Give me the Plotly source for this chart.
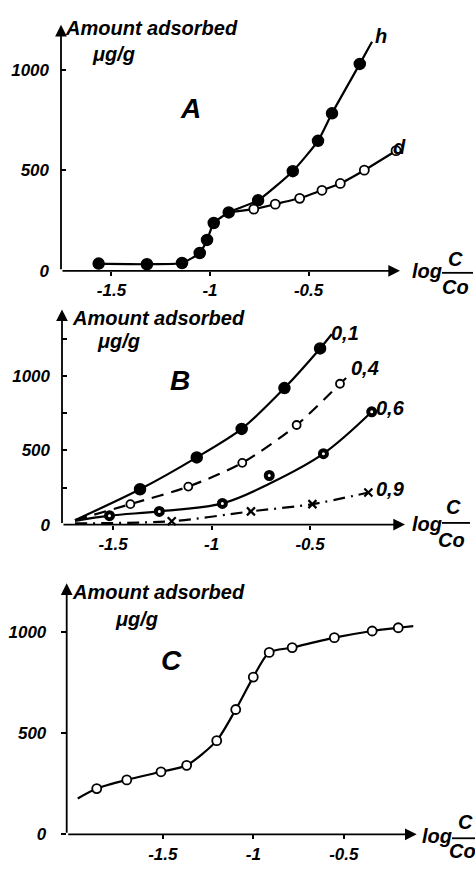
import plotly.graph_objects as go

W, H = 475, 871
FONT = "Liberation Sans"

# ---------------- data ----------------
# Panel A
A_h_x = [-1.565, -1.320, -1.142, -1.052, -1.015, -0.981, -0.905, -0.756, -0.580, -0.452, -0.381, -0.240]
A_h_y = [36, 33, 39, 89, 154, 238, 291, 351, 496, 647, 784, 1030]
A_h_end_x = [-0.178]
A_h_end_y = [1140]
A_d_x = [-0.778, -0.669, -0.545, -0.432, -0.339, -0.217, -0.056]
A_d_y = [307, 332, 361, 401, 435, 501, 598]
A_d_branch = 6  # index of h point where d branches off

# Panel B
B01_x = [-1.363, -1.075, -0.847, -0.630, -0.449]
B01_y = [238, 453, 645, 920, 1187]
B01_curve_x = [-1.693, -1.363, -1.075, -0.847, -0.630, -0.449, -0.390]
B01_curve_y = [30, 238, 453, 645, 920, 1187, 1283]
B04_x = [-1.412, -1.118, -0.844, -0.568, -0.348]
B04_y = [138, 256, 416, 671, 949]
B04_curve_x = [-1.693, -1.412, -1.118, -0.844, -0.568, -0.348, -0.305]
B04_curve_y = [30, 138, 256, 416, 671, 949, 1003]
B06_x = [-1.518, -1.265, -0.945, -0.707, -0.432, -0.187]
B06_y = [60, 89, 143, 331, 478, 760]
B06_curve_x = [-1.693, -1.518, -1.265, -0.945, -0.707, -0.432, -0.187]
B06_curve_y = [25, 60, 89, 143, 275, 478, 760]
B09_x = [-1.202, -0.800, -0.488, -0.204]
B09_y = [23, 89, 138, 216]
B09_curve_x = [-1.693, -1.202, -0.800, -0.488, -0.204]
B09_curve_y = [8, 23, 89, 138, 216]

# Panel C
C_x = [-1.865, -1.699, -1.510, -1.368, -1.202, -1.097, -1.000, -0.912, -0.785, -0.552, -0.343, -0.199]
C_y = [226, 269, 309, 341, 463, 617, 777, 899, 923, 972, 1005, 1021]
C_curve_x = [-1.970] + C_x + [-0.116]
C_curve_y = [177] + C_y + [1029]

x_tickvals = [-1.5, -1, -0.5]
x_ticktext = ["-1.5", "-1", "-0.5"]
A_yticks = [0, 500, 1000]
A_yticktext = ["0", "500", "1000"]
B_yticks = [0, 250, 500, 750, 1000, 1250]
B_yticktext = ["0", "", "500", "", "1000", ""]
C_yticks = [0, 500, 1000]
C_yticktext = ["0", "500", "1000"]

# axis ranges (x-axis origin at left end, arrow at right end)
A_xr, A_yr = [-1.756, -0.036], [0, 1225]
B_xr, B_yr = [-1.759, -0.018], [0, 1450]
C_xr, C_yr = [-2.031, -0.097], [0, 1241]


def px(x):
    return x / W


def py(y):
    return 1 - y / H


fig = go.Figure()

LW = 2.2


def curve(xs, ys, ax, dash="solid", smooth=0.8):
    fig.add_trace(go.Scatter(x=xs, y=ys, mode="lines", xaxis="x" + ax, yaxis="y" + ax,
                             line=dict(color="black", width=LW, dash=dash, shape="spline",
                                       smoothing=smooth),
                             hoverinfo="skip", showlegend=False, cliponaxis=False))


def marks(xs, ys, ax, symbol="circle", fill="black", size=11, lw=1.5):
    fig.add_trace(go.Scatter(x=xs, y=ys, mode="markers", xaxis="x" + ax, yaxis="y" + ax,
                             marker=dict(symbol=symbol, size=size, color=fill,
                                         line=dict(color="black", width=lw)),
                             showlegend=False, cliponaxis=False))


# Panel A
curve(A_h_x + A_h_end_x, A_h_y + A_h_end_y, "", smooth=0.5)
curve(A_h_x[A_d_branch:A_d_branch + 1] + A_d_x, A_h_y[A_d_branch:A_d_branch + 1] + A_d_y, "", smooth=0.4)
marks(A_h_x, A_h_y, "", size=11)
marks(A_d_x, A_d_y, "", fill="white", size=9, lw=1.8)

# Panel B
curve(B01_curve_x, B01_curve_y, "2")
curve(B04_curve_x, B04_curve_y, "2", dash="12px,8px")
curve(B06_curve_x, B06_curve_y, "2", smooth=1)
curve(B09_curve_x, B09_curve_y, "2", dash="12px,6px,2px,6px")
marks(B01_x, B01_y, "2", size=11)
marks(B04_x, B04_y, "2", fill="white", size=8, lw=1.8)
marks(B06_x, B06_y, "2", fill="white", size=7, lw=4)
marks(B09_x, B09_y, "2", symbol="x-thin", size=8, lw=2.2)

# Panel C
curve(C_curve_x, C_curve_y, "3", smooth=0.7)
marks(C_x, C_y, "3", fill="white", size=9, lw=1.8)

tickfont = dict(family=FONT, size=17, color="black", weight="bold", style="italic")


def it(lst):
    return ["<i>%s</i>" % s if s else "" for s in lst]


def xaxis(domain, rng, anchor):
    return dict(domain=domain, range=rng, anchor=anchor, showgrid=False, zeroline=False,
                showline=False, ticks="outside", ticklen=4, tickwidth=1.5, tickcolor="black",
                tickvals=x_tickvals, ticktext=it(x_ticktext), tickfont=tickfont, fixedrange=True)


def yaxis(domain, rng, anchor, tickvals, ticktext, ticks="inside"):
    return dict(domain=domain, range=rng, anchor=anchor, showgrid=False, zeroline=False,
                showline=False, ticks=ticks, ticklen=5, tickwidth=1.5, tickcolor="black",
                tickvals=tickvals, ticktext=it(ticktext), tickfont=tickfont, fixedrange=True,
                ticklabelstandoff=11)


fig.update_layout(
    width=W, height=H, margin=dict(l=0, r=0, t=0, b=0),
    paper_bgcolor="white", plot_bgcolor="white",
    xaxis=xaxis([61 / W, 400 / W], A_xr, "y"),
    yaxis=yaxis([1 - 274 / H, 1 - 25 / H], A_yr, "x", A_yticks, A_yticktext),
    xaxis2=xaxis([62 / W, 405 / W], B_xr, "y2"),
    yaxis2=yaxis([1 - 530.7 / H, 1 - 313 / H], B_yr, "x2", B_yticks, B_yticktext),
    xaxis3=xaxis([66.7 / W, 416.7 / W], C_xr, "y3"),
    yaxis3=yaxis([1 - 844 / H, 1 - 590 / H], C_yr, "x3", C_yticks, C_yticktext, ticks="outside"),
)

ann = []
shapes = []


def arrow_axes(xr, yr, sfx):
    common = dict(xref="x" + sfx, yref="y" + sfx, axref="x" + sfx, ayref="y" + sfx, text="",
                  showarrow=True, arrowhead=2, arrowsize=1.3, arrowwidth=1.8, arrowcolor="black")
    ann.append(dict(x=xr[1], y=0, ax=xr[0], ay=0, **common))
    ann.append(dict(x=xr[0], y=yr[1], ax=xr[0], ay=0, **common))


arrow_axes(A_xr, A_yr, "")
arrow_axes(B_xr, B_yr, "2")
arrow_axes(C_xr, C_yr, "3")

tfont = dict(family=FONT, size=20, color="black", style="italic", weight="bold")
bigfont = dict(family=FONT, size=28, color="black", style="italic", weight="bold")


def ptext(text, x, y, font=tfont, xanchor="left"):
    ann.append(dict(text=text, x=px(x), y=py(y), xref="paper", yref="paper", showarrow=False,
                    xanchor=xanchor, yanchor="middle", font=font))


def dtext(text, x, y, sfx, font=tfont, xanchor="center"):
    ann.append(dict(text=text, x=x, y=y, xref="x" + sfx, yref="y" + sfx, showarrow=False,
                    xanchor=xanchor, yanchor="middle", font=font))


# y-axis titles
for (x1, y1, x2, y2) in [(63, 28, 90, 55), (70, 322, 95, 345), (70, 599, 113, 626)]:
    ptext("Amount adsorbed", x1, y1)
    ptext("μg/g", x2, y2)

# log C/Co labels
for (lx, ly, cx, cy, lineY, l0, l1, ox, oy) in [
    (410, 274, 455, 262, 276, 442, 473, 455, 290),
    (410, 530, 453, 513, 529, 442, 470, 451, 546),
    (420, 846, 465, 832, 848, 452, 475, 462, 861),
]:
    ptext("log", lx, ly)
    ptext("C", cx, cy, xanchor="center")
    ptext("Co", ox, oy, xanchor="center")
    shapes.append(dict(type="line", xref="paper", yref="paper", x0=px(l0), x1=px(l1),
                       y0=py(lineY), y1=py(lineY), line=dict(color="black", width=1.8)))

# panel letters
dtext("A", -1.10, 808, "", font=bigfont)
dtext("B", -1.16, 971, "2", font=bigfont)
dtext("C", -1.451, 860, "3", font=bigfont)

# curve labels
dtext("h", -0.132, 1167, "")
ptext("d", 391, 149)
dtext("0,1", -0.322, 1291, "2")
dtext("0,4", -0.221, 1058, "2")
dtext("0,6", -0.094, 785, "2")
dtext("0,9", -0.094, 238, "2")

fig.update_layout(annotations=ann, shapes=shapes)
fig.write_html("out.html")
